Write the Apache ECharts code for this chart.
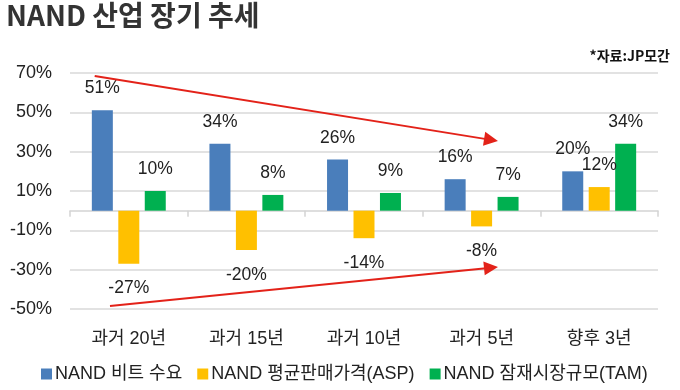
<!DOCTYPE html>
<html>
<head>
<meta charset="utf-8">
<script src="https://cdn.jsdelivr.net/npm/echarts@6/dist/echarts.min.js"></script>
<style>
html,body{margin:0;padding:0;background:#fff;}
#chart{width:680px;height:390px;}
</style>
</head>
<body>
<div id="chart"></div>
<script>
// ---- data ----
const titleText = 'NAND 산업 장기 추세';
const sourceText = '*자료:JP모간';
const categories = ['과거 20년', '과거 15년', '과거 10년', '과거 5년', '향후 3년'];
const seriesNames = ['NAND 비트 수요', 'NAND 평균판매가격(ASP)', 'NAND 잠재시장규모(TAM)'];
const bitDemand = [51, 34, 26, 16, 20];
const asp = [-27, -20, -14, -8, 12];
const tam = [10, 8, 9, 7, 34];
const yMin = -50, yMax = 70, yStep = 20;
// arrow annotations: [categoryPosition (0..5), value]
const arrowTop = [[0.21, 68.5], [3.58, 36.0]];
const arrowBottom = [[0.34, -48.5], [3.58, -29.0]];

const colors = ['#4a7ebb', '#ffc000', '#00b050'];
const latinKr = '"Liberation Sans", Arial, "Noto Sans CJK KR", sans-serif';

function toItems(arr) {
  return arr.map(v => ({
    value: v,
    label: v < 0 ? { position: 'bottom', distance: 16 } : { position: 'top', distance: 13 }
  }));
}

function barSeries(name, arr, color) {
  return {
    name: name,
    type: 'bar',
    xAxisIndex: 0,
    yAxisIndex: 0,
    barWidth: 21,
    barGap: '26%',
    itemStyle: { color: color },
    label: {
      show: true,
      formatter: '{c}%',
      fontSize: 17.5,
      color: '#222',
      fontFamily: latinKr
    },
    emphasis: { disabled: true },
    data: toItems(arr)
  };
}

const chart = echarts.init(document.getElementById('chart'), null, { renderer: 'canvas' });
chart.setOption({
  animation: false,
  backgroundColor: '#fff',
  title: [
    {
      text: titleText, left: 6, top: 1, padding: 0,
      textStyle: { fontSize: 28, fontWeight: 'bold', color: '#333', fontFamily: '"Noto Sans CJK KR", sans-serif' }
    },
    {
      text: sourceText, right: 10, top: 49, padding: 0,
      textStyle: { fontSize: 14, fontWeight: 'bold', color: '#111', fontFamily: '"Noto Sans CJK KR", sans-serif' }
    }
  ],
  legend: {
    data: seriesNames,
    left: 36, top: 360,
    icon: 'rect', itemWidth: 11, itemHeight: 11, itemGap: 15,
    textStyle: { fontSize: 18, color: '#222', fontFamily: latinKr, padding: [0, 0, 0, -2] }
  },
  grid: { left: 70, right: 22, top: 73, bottom: 81, containLabel: false },
  xAxis: [
    {
      type: 'category', data: categories, position: 'bottom', gridIndex: 0,
      axisLine: { show: false, onZero: false }, axisTick: { show: false },
      axisLabel: { fontSize: 18, color: '#222', margin: 21, fontFamily: latinKr }
    },
    {
      type: 'category', data: categories, position: 'bottom', gridIndex: 0,
      axisLine: { show: true, onZero: true, lineStyle: { color: '#d4d4d4', width: 1.5 } },
      axisTick: { show: true, length: 6, lineStyle: { color: '#d4d4d4', width: 1.5 } },
      axisLabel: { show: false }
    },
    { type: 'value', min: 0, max: 5, show: false, gridIndex: 0 }
  ],
  yAxis: {
    type: 'value', min: yMin, max: yMax, interval: yStep,
    axisLine: { show: false }, axisTick: { show: false },
    axisLabel: { formatter: '{value}%', fontSize: 18, color: '#222', margin: 18, fontFamily: latinKr },
    splitLine: { lineStyle: { color: '#d9d9d9', width: 1.5 } }
  },
  series: [
    barSeries(seriesNames[0], bitDemand, colors[0]),
    barSeries(seriesNames[1], asp, colors[1]),
    barSeries(seriesNames[2], tam, colors[2]),
    {
      name: 'arrows', type: 'line', xAxisIndex: 2, yAxisIndex: 0,
      data: [], silent: true,
      markLine: {
        silent: true,
        symbol: ['none', 'triangle'],
        symbolSize: 14,
        label: { show: false },
        lineStyle: { color: '#e32219', width: 2, type: 'solid' },
        emphasis: { disabled: true },
        data: [
          [{ coord: arrowTop[0] }, { coord: arrowTop[1] }],
          [{ coord: arrowBottom[0] }, { coord: arrowBottom[1] }]
        ]
      }
    }
  ]
});
</script>
</body>
</html>
